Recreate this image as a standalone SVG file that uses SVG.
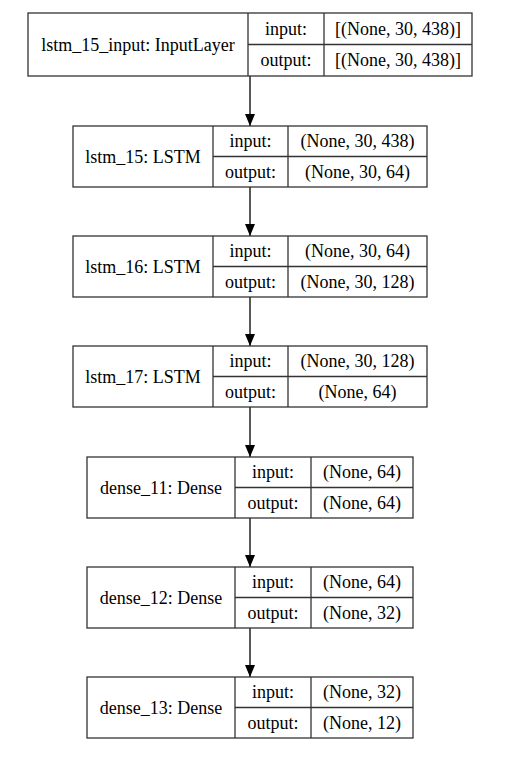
<svg xmlns="http://www.w3.org/2000/svg" width="514" height="770" viewBox="0 0 514 770">
<defs>
<style>
.b{fill:#fff;stroke:#333;stroke-width:1.3}
.l{stroke:#333;stroke-width:1.3}
text{font-family:"Liberation Serif","Times New Roman",serif;font-size:18px;fill:#000;text-anchor:middle}
.c{stroke:#000;stroke-width:1.3;fill:none}
</style>
<marker id="ah" markerWidth="12" markerHeight="10" refX="12" refY="5" orient="auto" markerUnits="userSpaceOnUse">
<path d="M0,0 L12,5 L0,10 z" fill="#000"/>
</marker>
</defs>
<g id="connectors">
<line class="c" x1="250" y1="76" x2="250" y2="126" marker-end="url(#ah)"/>
<line class="c" x1="250" y1="187" x2="250" y2="236" marker-end="url(#ah)"/>
<line class="c" x1="250" y1="297" x2="250" y2="346" marker-end="url(#ah)"/>
<line class="c" x1="250" y1="407" x2="250" y2="457" marker-end="url(#ah)"/>
<line class="c" x1="250" y1="518" x2="250" y2="567" marker-end="url(#ah)"/>
<line class="c" x1="250" y1="628" x2="250" y2="677" marker-end="url(#ah)"/>
</g>
<g id="lstm_15_input">
<rect class="b" x="28" y="13" width="444" height="63"/>
<line class="l" x1="248" y1="13" x2="248" y2="76"/>
<line class="l" x1="324" y1="13" x2="324" y2="76"/>
<line class="l" x1="248" y1="44.5" x2="472" y2="44.5"/>
<text x="138" y="51">lstm_15_input: InputLayer</text>
<text x="286" y="35">input:</text>
<text x="286" y="66">output:</text>
<text x="398" y="35">[(None, 30, 438)]</text>
<text x="398" y="66">[(None, 30, 438)]</text>
</g>
<g id="lstm_15">
<rect class="b" x="73" y="126" width="354" height="61"/>
<line class="l" x1="213" y1="126" x2="213" y2="187"/>
<line class="l" x1="288" y1="126" x2="288" y2="187"/>
<line class="l" x1="213" y1="156.5" x2="427" y2="156.5"/>
<text x="143" y="163">lstm_15: LSTM</text>
<text x="250.5" y="147">input:</text>
<text x="250.5" y="178">output:</text>
<text x="357.5" y="147">(None, 30, 438)</text>
<text x="357.5" y="178">(None, 30, 64)</text>
</g>
<g id="lstm_16">
<rect class="b" x="73" y="236" width="354" height="61"/>
<line class="l" x1="213" y1="236" x2="213" y2="297"/>
<line class="l" x1="288" y1="236" x2="288" y2="297"/>
<line class="l" x1="213" y1="266.5" x2="427" y2="266.5"/>
<text x="143" y="273">lstm_16: LSTM</text>
<text x="250.5" y="257">input:</text>
<text x="250.5" y="288">output:</text>
<text x="357.5" y="257">(None, 30, 64)</text>
<text x="357.5" y="288">(None, 30, 128)</text>
</g>
<g id="lstm_17">
<rect class="b" x="73" y="346" width="354" height="61"/>
<line class="l" x1="213" y1="346" x2="213" y2="407"/>
<line class="l" x1="288" y1="346" x2="288" y2="407"/>
<line class="l" x1="213" y1="376.5" x2="427" y2="376.5"/>
<text x="143" y="383">lstm_17: LSTM</text>
<text x="250.5" y="367">input:</text>
<text x="250.5" y="398">output:</text>
<text x="357.5" y="367">(None, 30, 128)</text>
<text x="357.5" y="398">(None, 64)</text>
</g>
<g id="dense_11">
<rect class="b" x="87" y="457" width="326" height="61"/>
<line class="l" x1="235" y1="457" x2="235" y2="518"/>
<line class="l" x1="311" y1="457" x2="311" y2="518"/>
<line class="l" x1="235" y1="487.5" x2="413" y2="487.5"/>
<text x="161" y="494">dense_11: Dense</text>
<text x="273" y="478">input:</text>
<text x="273" y="509">output:</text>
<text x="362" y="478">(None, 64)</text>
<text x="362" y="509">(None, 64)</text>
</g>
<g id="dense_12">
<rect class="b" x="87" y="567" width="326" height="61"/>
<line class="l" x1="235" y1="567" x2="235" y2="628"/>
<line class="l" x1="311" y1="567" x2="311" y2="628"/>
<line class="l" x1="235" y1="597.5" x2="413" y2="597.5"/>
<text x="161" y="604">dense_12: Dense</text>
<text x="273" y="588">input:</text>
<text x="273" y="619">output:</text>
<text x="362" y="588">(None, 64)</text>
<text x="362" y="619">(None, 32)</text>
</g>
<g id="dense_13">
<rect class="b" x="87" y="677" width="326" height="61"/>
<line class="l" x1="235" y1="677" x2="235" y2="738"/>
<line class="l" x1="311" y1="677" x2="311" y2="738"/>
<line class="l" x1="235" y1="707.5" x2="413" y2="707.5"/>
<text x="161" y="714">dense_13: Dense</text>
<text x="273" y="698">input:</text>
<text x="273" y="729">output:</text>
<text x="362" y="698">(None, 32)</text>
<text x="362" y="729">(None, 12)</text>
</g>
</svg>
